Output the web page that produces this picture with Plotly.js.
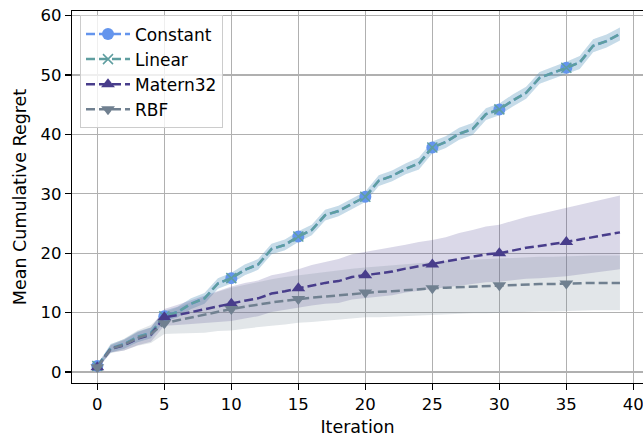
<!DOCTYPE html>
<html>
<head>
<meta charset="utf-8">
<script src="https://cdn.plot.ly/plotly-3.0.1.min.js"></script>
<style>
  html, body { margin: 0; padding: 0; background: #ffffff; }
  #chart { width: 643px; height: 437px; }
</style>
</head>
<body>
<div id="chart"></div>
<script>
// Iterations of the optimisation run
const iterations = [0,1,2,3,4,5,6,7,8,9,10,11,12,13,14,15,16,17,18,19,
                    20,21,22,23,24,25,26,27,28,29,30,31,32,33,34,35,36,37,38,39];

// Mean cumulative regret per kernel
const constantMean = [1.0,4.0,4.7,5.9,6.6,9.4,10.1,11.5,12.4,14.9,15.8,17.2,18.1,20.7,21.4,22.8,23.9,26.4,27.1,28.3,
                      29.5,32.2,33.0,34.2,35.1,37.8,38.7,40.1,40.9,43.4,44.2,45.7,47.0,49.5,50.3,51.2,52.1,54.9,55.7,56.9];
const linearMean   = [1.0,4.0,4.7,5.9,6.6,9.4,10.1,11.5,12.4,14.9,15.8,17.2,18.1,20.7,21.4,22.8,23.9,26.4,27.1,28.3,
                      29.5,32.2,33.0,34.2,35.1,37.8,38.7,40.1,40.9,43.4,44.2,45.7,47.0,49.5,50.3,51.2,52.1,54.9,55.7,56.9];
const matern32Mean = [0.8,3.9,4.5,5.6,6.3,9.2,9.6,10.1,10.5,11.0,11.5,12.0,12.4,13.2,13.6,14.1,14.6,15.0,15.3,16.0,
                      16.3,16.6,16.9,17.4,17.8,18.1,18.5,19.0,19.4,19.8,20.0,20.5,20.9,21.2,21.5,21.9,22.3,22.7,23.1,23.5];
const rbfMean      = [0.8,3.9,4.6,5.7,6.4,8.2,8.7,9.2,9.6,10.2,10.6,11.0,11.4,11.7,12.0,12.3,12.5,12.7,12.9,13.2,
                      13.4,13.5,13.6,13.8,14.0,14.1,14.2,14.3,14.4,14.5,14.6,14.6,14.7,14.8,14.8,14.9,14.9,15.0,15.0,15.0];

// Standard deviation across runs
const constantStd = [0.3,0.7,0.8,0.9,0.9,0.9,0.9,0.9,0.9,0.9,0.9,0.9,0.9,0.9,0.9,0.9,0.9,0.9,0.9,0.9,
                     0.9,0.9,0.9,0.9,1.0,1.0,1.0,1.0,1.0,1.0,1.0,1.0,1.0,1.0,1.0,1.0,1.1,1.1,1.1,1.1];
const linearStd   = [0.3,0.7,0.8,0.9,0.9,0.9,0.9,0.9,0.9,0.9,0.9,0.9,0.9,0.9,0.9,0.9,0.9,0.9,0.9,0.9,
                     0.9,0.9,0.9,0.9,1.0,1.0,1.0,1.0,1.0,1.0,1.0,1.0,1.0,1.0,1.0,1.0,1.1,1.1,1.1,1.1];
const matern32Std = [0.3,0.6,0.9,1.1,1.2,1.4,1.7,2.0,2.3,2.6,2.9,3.0,3.0,3.1,3.1,3.2,3.4,3.5,3.7,3.8,
                     3.9,3.9,4.0,4.0,4.1,4.1,4.2,4.4,4.5,4.7,4.8,5.0,5.2,5.4,5.6,5.8,5.9,6.0,6.1,6.2];
const rbfStd      = [0.3,0.7,1.0,1.3,1.5,1.8,2.2,2.6,3.0,3.3,3.6,3.7,3.8,3.9,4.0,4.0,4.1,4.1,4.2,4.2,
                     4.2,4.3,4.3,4.4,4.4,4.5,4.5,4.5,4.5,4.6,4.6,4.6,4.6,4.6,4.6,4.6,4.6,4.6,4.6,4.6];

const xTicks = [0,5,10,15,20,25,30,35,40];
const yTicks = [0,10,20,30,40,50,60];

const series = [
  {name: 'Constant', mean: constantMean, std: constantStd, color: '#6495ED', fill: 'rgba(100,149,237,0.2)', symbol: 'circle', size: 12},
  {name: 'Linear',   mean: linearMean,   std: linearStd,   color: '#5F9EA0', fill: 'rgba(95,158,160,0.2)',  symbol: 'x-thin', size: 10},
  {name: 'Matern32', mean: matern32Mean, std: matern32Std, color: '#483D8B', fill: 'rgba(72,61,139,0.2)',   symbol: 'triangle-up', size: 12},
  {name: 'RBF',      mean: rbfMean,      std: rbfStd,      color: '#708090', fill: 'rgba(112,128,144,0.2)', symbol: 'triangle-down', size: 12}
];

const markEvery = 5;
const dash = '9px,4px';
const lineWidth = 2.5;

function markerStyle(s) {
  const m = {symbol: s.symbol, size: s.size, color: s.color};
  if (s.symbol === 'x-thin') m.line = {color: s.color, width: 1.5};
  else m.line = {width: 0};
  return m;
}

const traces = [];

// shaded mean ± std bands, drawn beneath every line
series.forEach(s => {
  const upper = s.mean.map((v, i) => v + s.std[i]);
  const lower = s.mean.map((v, i) => v - s.std[i]);
  traces.push({x: iterations, y: upper, type: 'scatter', mode: 'lines', line: {width: 0},
               legendgroup: s.name, showlegend: false, hoverinfo: 'skip'});
  traces.push({x: iterations, y: lower, type: 'scatter', mode: 'lines', line: {width: 0},
               fill: 'tonexty', fillcolor: s.fill,
               legendgroup: s.name, showlegend: false, hoverinfo: 'skip'});
});

// dashed mean lines with a marker every fifth iteration
series.forEach(s => {
  traces.push({x: iterations, y: s.mean, type: 'scatter', mode: 'lines',
               line: {color: s.color, width: lineWidth, dash: dash},
               legendgroup: s.name, showlegend: false, name: s.name});
  const mx = iterations.filter((v, i) => i % markEvery === 0);
  const my = s.mean.filter((v, i) => i % markEvery === 0);
  traces.push({x: mx, y: my, type: 'scatter', mode: 'markers', marker: markerStyle(s),
               legendgroup: s.name, showlegend: false, name: s.name});
});

// legend entries (line + marker sample)
series.forEach(s => {
  traces.push({x: [null], y: [null], type: 'scatter', mode: 'lines+markers', name: s.name,
               line: {color: s.color, width: lineWidth, dash: dash},
               marker: markerStyle(s), legendgroup: s.name, showlegend: true});
});

const axisCommon = {
  showgrid: true, gridcolor: '#b0b0b0', gridwidth: 1.3,
  zeroline: false, showline: true, linecolor: '#000000', linewidth: 1.3,
  ticks: 'outside', ticklen: 6, tickwidth: 1.3, tickcolor: '#000000',
  tickfont: {family: 'DejaVu Sans', size: 16.5, color: '#000000'},
  ticklabeloverflow: 'allow',
  automargin: false
};

const layout = {
  width: 643, height: 437,
  margin: {l: 72, r: 0, t: 11, b: 54},
  paper_bgcolor: '#ffffff', plot_bgcolor: '#ffffff',
  font: {family: 'DejaVu Sans', size: 16.5, color: '#000000'},
  showlegend: true,
  xaxis: Object.assign({}, axisCommon, {
    range: [-1.89, 40.72], tickvals: xTicks, ticktext: xTicks.map(String), mirror: true,
    title: {text: 'Iteration', font: {family: 'DejaVu Sans', size: 17.5, color: '#000000'}, standoff: 8}
  }),
  yaxis: Object.assign({}, axisCommon, {
    range: [-1.85, 60.76], tickvals: yTicks, ticktext: yTicks.map(String), mirror: false,
    title: {text: 'Mean Cumulative Regret', font: {family: 'DejaVu Sans', size: 17.5, color: '#000000'}, standoff: 9}
  }),
  legend: {
    x: 0.014, y: 0.988, xanchor: 'left', yanchor: 'top',
    bgcolor: 'rgba(255,255,255,0.8)', bordercolor: '#cccccc', borderwidth: 1,
    font: {family: 'DejaVu Sans', size: 17, color: '#000000'},
    tracegroupgap: 0, traceorder: 'grouped', itemwidth: 44
  }
};

Plotly.newPlot('chart', traces, layout, {staticPlot: true, displayModeBar: false});
</script>
</body>
</html>
